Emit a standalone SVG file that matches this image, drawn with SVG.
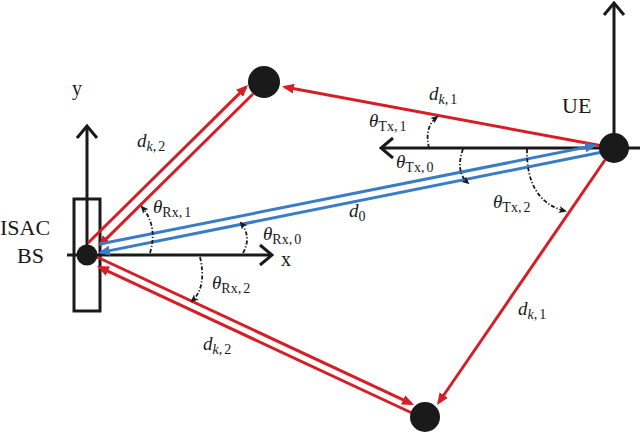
<svg xmlns="http://www.w3.org/2000/svg" width="640" height="434" viewBox="0 0 640 434">
<defs>
<style>
.ax{stroke:#1a1a1a;stroke-width:3;fill:none}
.red{stroke:#d41f26;stroke-width:3;fill:none}
.blue{stroke:#3b7cc6;stroke-width:3;fill:none}
.ang{stroke:#1a1a1a;stroke-width:1.8;fill:none;stroke-dasharray:4 2 1.2 2}
.node{fill:#1a1a1a}
.lb{font-family:"Liberation Serif",serif;font-size:22px;fill:#1a1a1a}
.xy{font-size:20px}
.m{font-family:"Liberation Serif",serif;font-style:italic;font-size:19px;fill:#1a1a1a}
.s{font-size:14px}
.r{font-style:normal}
</style>
<marker id="ar" viewBox="0 0 12 10" markerWidth="12" markerHeight="10" refX="9" refY="5" orient="auto" markerUnits="userSpaceOnUse"><path d="M0,0 L12,5 L0,10 z" fill="#d41f26"/></marker>
<marker id="ab" viewBox="0 0 12 10" markerWidth="12" markerHeight="10" refX="9" refY="5" orient="auto" markerUnits="userSpaceOnUse"><path d="M0,0 L12,5 L0,10 z" fill="#3b7cc6"/></marker>
<marker id="ach" viewBox="-14 -12 16 24" markerWidth="16" markerHeight="24" refX="0" refY="0" orient="auto" markerUnits="userSpaceOnUse"><path d="M-12,-10 L0,0 L-12,10" fill="none" stroke="#1a1a1a" stroke-width="3"/></marker>
<marker id="ak" viewBox="0 0 8 7" markerWidth="8" markerHeight="7" refX="6" refY="3.5" orient="auto" markerUnits="userSpaceOnUse"><path d="M0,0 L8,3.5 L0,7 L2,3.5 z" fill="#1a1a1a"/></marker>
</defs>
<rect width="640" height="434" fill="#fff"/>
<g id="axes">
<rect x="74" y="199" width="26" height="112" class="ax" fill="#fff"/>
<line x1="87" y1="263" x2="87" y2="126" class="ax" marker-end="url(#ach)"/>
<line x1="67" y1="255" x2="272" y2="255" class="ax" marker-end="url(#ach)"/>
<line x1="640" y1="148" x2="381" y2="148" class="ax" marker-end="url(#ach)"/>
<line x1="614" y1="148" x2="614" y2="3" class="ax" marker-end="url(#ach)"/>
</g>
<g id="connectors">
<line x1="600" y1="145.5" x2="284.9" y2="87" class="red" marker-end="url(#ar)"/>
<line x1="605" y1="160" x2="438.7" y2="402.5" class="red" marker-end="url(#ar)"/>
<line x1="88" y1="243" x2="245.9" y2="87.1" class="red" marker-end="url(#ar)"/>
<line x1="253" y1="94" x2="100.1" y2="244.9" class="red" marker-end="url(#ar)"/>
<line x1="97" y1="257" x2="411.3" y2="403.7" class="red" marker-end="url(#ar)"/>
<line x1="412" y1="413" x2="99.7" y2="267.3" class="red" marker-end="url(#ar)"/>
<line x1="100" y1="244" x2="594.1" y2="145.6" class="blue" marker-end="url(#ab)"/>
<line x1="600" y1="152.5" x2="100.9" y2="252.4" class="blue" marker-end="url(#ab)"/>
</g>
<g id="angles">
<path d="M243,253 Q252,237 241,223" class="ang" marker-end="url(#ak)"/>
<path d="M150,253 Q158,226 142,207" class="ang" marker-end="url(#ak)"/>
<path d="M200,257 Q207,287 192,301" class="ang" marker-end="url(#ak)"/>
<path d="M429,148 Q424,127 437,117" class="ang" marker-end="url(#ak)"/>
<path d="M463,149 Q455,172 468,183" class="ang" marker-end="url(#ak)"/>
<path d="M527,149 Q526,201 565,211" class="ang" marker-end="url(#ak)"/>
</g>
<g id="bs"><circle cx="87" cy="255" r="10.5" class="node"/>
<text class="lb" x="0" y="235">ISAC</text><text class="lb" x="17" y="263">BS</text></g>
<g id="ue"><circle cx="614" cy="148" r="15" class="node"/>
<text class="lb" x="562" y="113">UE</text></g>
<g id="scatterer1"><circle cx="264" cy="82" r="16" class="node"/></g>
<g id="scatterer2"><circle cx="425" cy="417" r="15" class="node"/></g>
<g id="labels">
<text class="lb xy" x="72" y="95">y</text>
<text class="lb xy" x="281" y="266">x</text>
<text class="m" x="429" y="100">d<tspan class="s" dy="4">k</tspan><tspan class="s r">,</tspan><tspan class="s r" dx="2">1</tspan></text>
<text class="m" x="518" y="315">d<tspan class="s" dy="4">k</tspan><tspan class="s r">,</tspan><tspan class="s r" dx="2">1</tspan></text>
<text class="m" x="137" y="147">d<tspan class="s" dy="4">k</tspan><tspan class="s r">,</tspan><tspan class="s r" dx="2">2</tspan></text>
<text class="m" x="203" y="350">d<tspan class="s" dy="4">k</tspan><tspan class="s r">,</tspan><tspan class="s r" dx="2">2</tspan></text>
<text class="m" x="349" y="217">d<tspan class="s r" dy="4">0</tspan></text>
<text class="m" x="263" y="240">θ<tspan class="s r" dy="4">Rx,</tspan><tspan class="s r" dx="2">0</tspan></text>
<text class="m" x="153" y="213">θ<tspan class="s r" dy="4">Rx,</tspan><tspan class="s r" dx="2">1</tspan></text>
<text class="m" x="212" y="289">θ<tspan class="s r" dy="4">Rx,</tspan><tspan class="s r" dx="2">2</tspan></text>
<text class="m" x="369" y="127">θ<tspan class="s r" dy="4">Tx,</tspan><tspan class="s r" dx="2">1</tspan></text>
<text class="m" x="396" y="168">θ<tspan class="s r" dy="4">Tx,</tspan><tspan class="s r" dx="2">0</tspan></text>
<text class="m" x="493" y="208">θ<tspan class="s r" dy="4">Tx,</tspan><tspan class="s r" dx="2">2</tspan></text>
</g>
</svg>
